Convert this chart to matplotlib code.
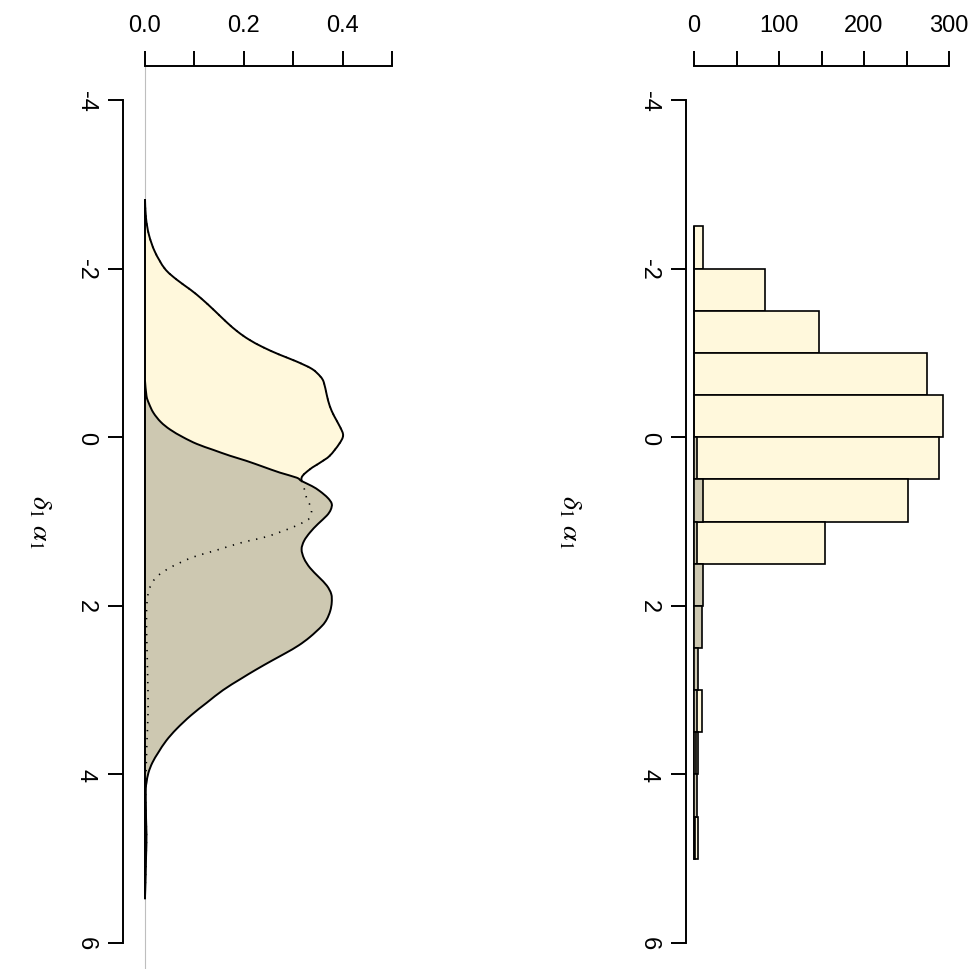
import numpy as np
import matplotlib
matplotlib.use("Agg")
import matplotlib.pyplot as plt
from matplotlib.path import Path
from matplotlib.patches import PathPatch

plt.rcParams['font.family'] = ['Liberation Sans', 'DejaVu Sans']
plt.rcParams['axes.unicode_minus'] = False
plt.rcParams['mathtext.fontset'] = 'stix'

# ---- density of the first sample (cornsilk) ----
dens1_pos = [-2.82, -2.60, -2.40, -2.20, -2.00, -1.87, -1.75, -1.64, -1.50, -1.36,
             -1.25, -1.16, -1.07, -0.98, -0.90, -0.81, -0.72, -0.65, -0.50, -0.37,
             -0.25, -0.12, -0.02, 0.08, 0.22, 0.30, 0.38, 0.48, 0.60, 0.72,
             0.82, 0.89, 0.95, 0.99, 1.08, 1.18, 1.25, 1.34, 1.43, 1.56,
             1.68, 1.84, 2.08, 2.50, 3.00, 3.30, 3.60, 4.00, 4.30, 4.70,
             5.00, 5.45]
dens1_val = [0.000, 0.002, 0.008, 0.020, 0.040, 0.064, 0.092, 0.115, 0.141, 0.166,
             0.188, 0.210, 0.238, 0.272, 0.306, 0.338, 0.355, 0.362, 0.368, 0.374,
             0.383, 0.395, 0.401, 0.393, 0.374, 0.355, 0.334, 0.317, 0.322, 0.327,
             0.335, 0.337, 0.333, 0.327, 0.294, 0.246, 0.196, 0.145, 0.094, 0.047,
             0.020, 0.007, 0.003, 0.004, 0.006, 0.006, 0.004, 0.002, 0.001, 0.003,
             0.002, 0.000]

# ---- density of the second sample (cornsilk3) ----
dens2_pos = [-0.67, -0.49, -0.40, -0.29, -0.18, -0.09, 0.00, 0.08, 0.15, 0.22,
             0.28, 0.35, 0.42, 0.48, 0.52, 0.58, 0.64, 0.72, 0.79, 0.86,
             0.93, 1.03, 1.13, 1.23, 1.33, 1.44, 1.55, 1.66, 1.76, 1.86,
             1.96, 2.06, 2.16, 2.24, 2.37, 2.47, 2.56, 2.65, 2.76, 2.87,
             3.00, 3.15, 3.30, 3.46, 3.60, 3.74, 3.86, 3.98, 4.10, 4.21,
             4.60, 5.00, 5.48]
dens2_val = [0.000, 0.003, 0.008, 0.017, 0.032, 0.051, 0.077, 0.105, 0.138, 0.172,
             0.205, 0.239, 0.273, 0.307, 0.317, 0.338, 0.354, 0.370, 0.378, 0.376,
             0.368, 0.350, 0.334, 0.322, 0.317, 0.322, 0.334, 0.352, 0.368, 0.377,
             0.378, 0.375, 0.368, 0.358, 0.334, 0.311, 0.285, 0.257, 0.224, 0.193,
             0.158, 0.125, 0.093, 0.064, 0.043, 0.027, 0.015, 0.007, 0.003, 0.001,
             0.002, 0.001, 0.000]

# ---- histogram counts, bins of width 0.5 starting at -2.5 ----
bin_left = [-2.5, -2.0, -1.5, -1.0, -0.5, 0.0, 0.5, 1.0, 1.5, 2.0, 2.5, 3.0, 3.5, 4.0, 4.5]
counts1 = [11, 84, 147, 274, 293, 288, 252, 154, 7, 2, 3, 9, 5, 0, 5]
counts2 = [0, 0, 0, 0, 0, 3, 11, 4, 11, 9, 5, 3, 2, 3, 1]
bin_width = 0.5

col1 = '#FFF8DC'   # cornsilk
col2 = '#CDC8B1'   # cornsilk3

W, H = 975, 979
fig = plt.figure(figsize=(W / 100, H / 100), dpi=100)


def px_axes(x0, x1, y0, y1):
    return fig.add_axes([x0 / W, 1 - y1 / H, (x1 - x0) / W, (y1 - y0) / H])


def smooth_path(xs, ys, close_to_baseline=False):
    """Catmull-Rom curve through the points, written as cubic Bezier segments."""
    p = np.column_stack([xs, ys]).astype(float)
    ext = np.vstack([p[0], p, p[-1]])
    verts = [p[0]]
    codes = [Path.MOVETO]
    for i in range(len(p) - 1):
        p0, p1, p2, p3 = ext[i], ext[i + 1], ext[i + 2], ext[i + 3]
        c1 = p1 + (p2 - p0) / 6.0
        c2 = p2 - (p3 - p1) / 6.0
        verts += [c1, c2, p2]
        codes += [Path.CURVE4] * 3
    if close_to_baseline:
        verts += [p[0], p[0]]
        codes += [Path.LINETO, Path.CLOSEPOLY]
    return Path(np.array(verts), codes)


# vertical mapping shared by both panels: -4 at y=101 px, 6 at y=944 px
ppu = (944 - 101) / 10.0
top_px, bot_px = 67, 970
y_top = -4 - (101 - top_px) / ppu
y_bot = -4 + (bot_px - 101) / ppu

lw_axis = 1.4
tick_len = 10.8


def style(ax, xt, xlabels):
    for s in ('bottom', 'right'):
        ax.spines[s].set_visible(False)
    ax.spines['top'].set_linewidth(lw_axis)
    ax.spines['left'].set_linewidth(lw_axis)
    ax.spines['left'].set_bounds(-4, 6)
    ax.spines['top'].set_bounds(xt[0], xt[-1])
    ax.xaxis.tick_top()
    ax.set_xticks(xt)
    ax.set_xticklabels(xlabels)
    ax.set_yticks([-4, -2, 0, 2, 4, 6])
    ax.set_yticklabels(['-4', '-2', '0', '2', '4', '6'])
    ax.tick_params(axis='x', direction='out', length=tick_len, width=lw_axis,
                   labelsize=17, pad=11)
    ax.tick_params(axis='y', direction='out', length=tick_len, width=lw_axis,
                   labelsize=17, pad=8, labelrotation=-90)
    for lab in ax.get_yticklabels():
        lab.set_va('center')
    ax.set_ylim(y_bot, y_top)
    ax.patch.set_visible(False)


# ---- left panel: densities ----
ax1 = px_axes(123, 410, top_px, bot_px)
dppu = 494.0
ax1.set_xlim(-(145 - 123) / dppu, (410 - 145) / dppu)
ax1.axvline(0, color='#BEBEBE', lw=0.8, zorder=0.5)
ax1.add_patch(PathPatch(smooth_path(dens1_val, dens1_pos, True), facecolor=col1,
                        edgecolor='black', lw=1.4, zorder=1))
ax1.add_patch(PathPatch(smooth_path(dens2_val, dens2_pos, True), facecolor=col2,
                        edgecolor='black', lw=1.4, zorder=2))
ax1.add_patch(PathPatch(smooth_path(dens1_val, dens1_pos), facecolor='none',
                        edgecolor='black', lw=1.2, linestyle=(0, (0.8, 4)),
                        zorder=3))
style(ax1, [0, 0.1, 0.2, 0.3, 0.4, 0.5], ['0.0', '', '0.2', '', '0.4', ''])

# ---- right panel: histograms ----
ax2 = px_axes(686, 975, top_px, bot_px)
cppu = (949 - 694) / 300.0
ax2.set_xlim(-(694 - 686) / cppu, (975 - 694) / cppu)
ax2.barh(bin_left, counts1, height=bin_width, align='edge', color=col1,
         edgecolor='black', lw=1.2, zorder=1)
ax2.barh(bin_left, counts2, height=bin_width, align='edge', color=col2,
         edgecolor='black', lw=1.2, zorder=2)
style(ax2, [0, 50, 100, 150, 200, 250, 300], ['0', '', '100', '', '200', '', '300'])

# axis titles
ymid = 1 - (101 + 944) / 2 / H
for xpx in (40, 570):
    fig.text(xpx / W, ymid, r'$\delta_1\;\alpha_1$', rotation=-90,
             ha='center', va='center', fontsize=20)

fig.savefig('out.png', dpi=100)
